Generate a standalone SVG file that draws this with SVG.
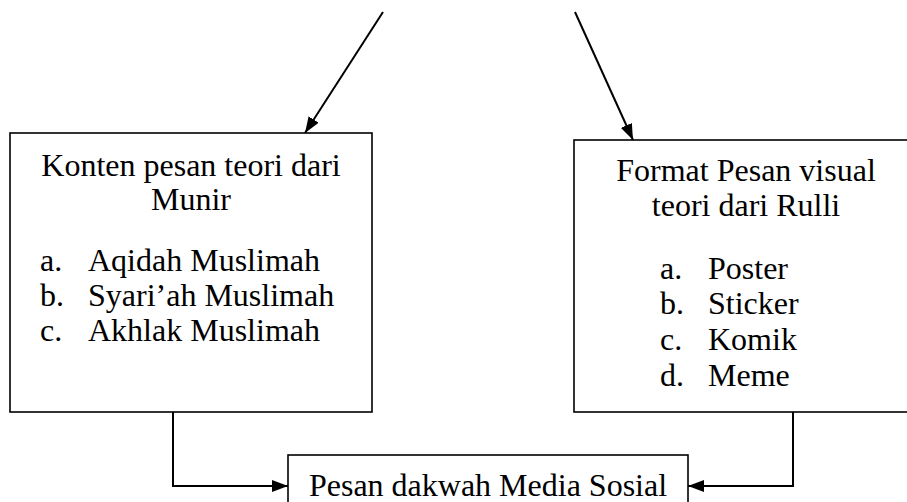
<svg xmlns="http://www.w3.org/2000/svg" width="907" height="502" viewBox="0 0 907 502">
<style>
.box{fill:#fff;stroke:#000;stroke-width:1.6}
.t{font-family:"Liberation Serif","Times New Roman",serif;font-size:32px;fill:#000}
.c{text-anchor:middle}
.ln{fill:none;stroke:#000;stroke-width:2}
</style>
<defs>
<marker id="ah" viewBox="0 0 16 12" refX="16" refY="6" markerWidth="16" markerHeight="12" markerUnits="userSpaceOnUse" orient="auto">
<path d="M0,0 L16,6 L0,12 Z" fill="#000"/>
</marker>
</defs>
<g id="connectors">
<line class="ln" x1="383" y1="12" x2="305" y2="133" marker-end="url(#ah)"/>
<line class="ln" x1="575" y1="12" x2="633" y2="140" marker-end="url(#ah)"/>
<polyline class="ln" points="173,412 173,486 288,486" marker-end="url(#ah)"/>
<polyline class="ln" points="793,412 793,486 688,486" marker-end="url(#ah)"/>
</g>
<g id="node-konten">
<rect class="box" x="10" y="133" width="362" height="279"/>
<text class="t c" x="191" y="176">Konten pesan teori dari</text>
<text class="t c" x="191" y="210">Munir</text>
<text class="t" x="40" y="271">a.</text><text class="t" x="88" y="271">Aqidah Muslimah</text>
<text class="t" x="40" y="306">b.</text><text class="t" x="88" y="306">Syari’ah Muslimah</text>
<text class="t" x="40" y="341">c.</text><text class="t" x="88" y="341">Akhlak Muslimah</text>
</g>
<g id="node-format">
<rect class="box" x="574" y="140" width="350" height="272"/>
<text class="t c" x="746" y="181">Format Pesan visual</text>
<text class="t c" x="746" y="216">teori dari Rulli</text>
<text class="t" x="660" y="279">a.</text><text class="t" x="708" y="279">Poster</text>
<text class="t" x="660" y="314">b.</text><text class="t" x="708" y="314">Sticker</text>
<text class="t" x="660" y="350">c.</text><text class="t" x="708" y="350">Komik</text>
<text class="t" x="660" y="386">d.</text><text class="t" x="708" y="386">Meme</text>
</g>
<g id="node-pesan">
<rect class="box" x="288" y="455" width="400" height="60"/>
<text class="t c" x="488" y="496">Pesan dakwah Media Sosial</text>
</g>
</svg>
